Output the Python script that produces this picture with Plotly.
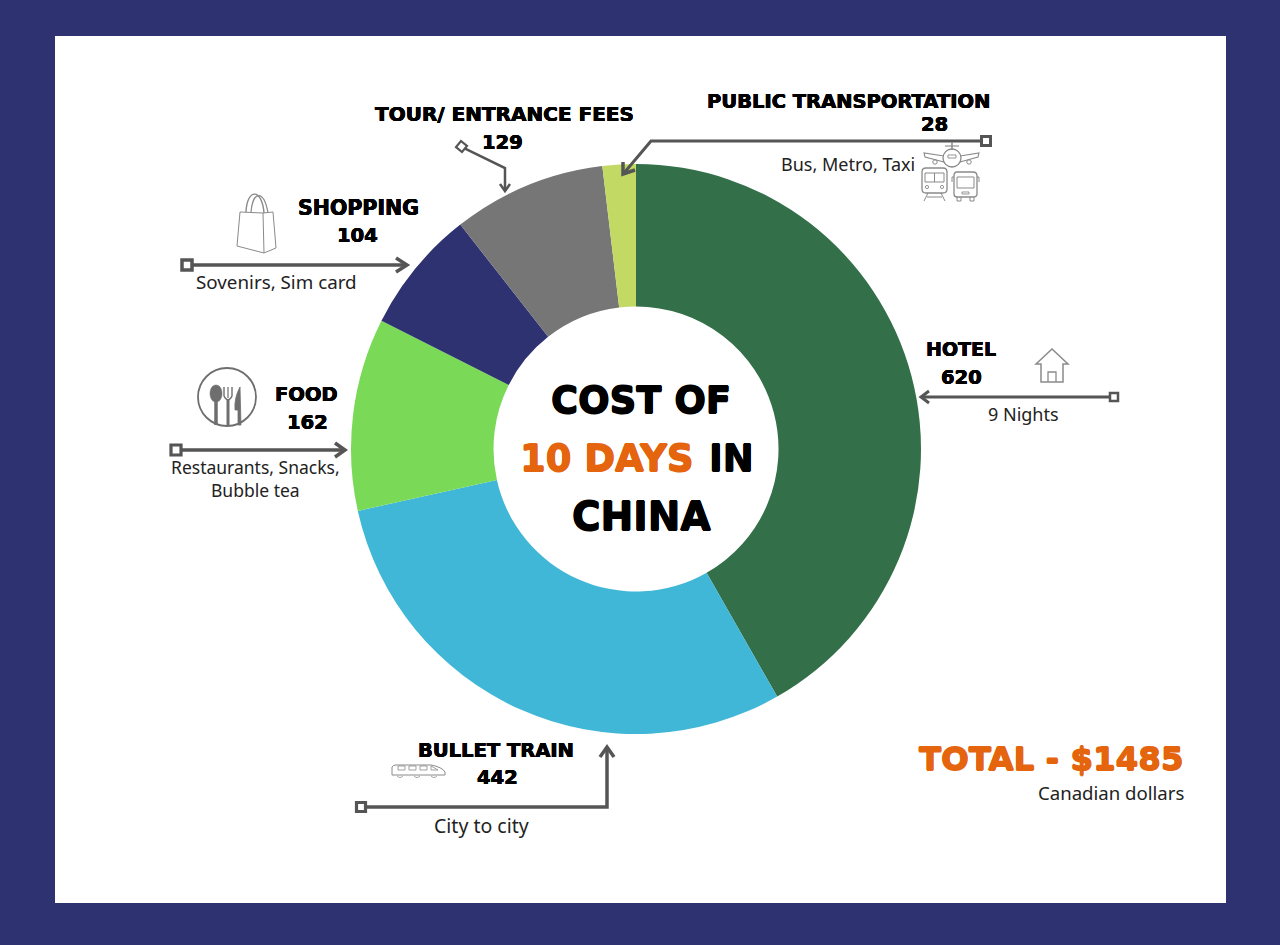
import re
import plotly.graph_objects as go

W, H = 1280, 945

categories = ["HOTEL", "BULLET TRAIN", "FOOD", "SHOPPING", "TOUR/ ENTRANCE FEES", "PUBLIC TRANSPORTATION"]
values = [620, 442, 162, 104, 129, 28]
colors = ["#33704A", "#40B7D6", "#7BD958", "#2F3270", "#767676", "#C2D964"]
details = ["9 Nights", "City to city", "Restaurants, Snacks,", "Sovenirs, Sim card", "Bubble tea", "Bus, Metro, Taxi"]

NAVY = "#2F3270"
ORANGE = "#E5650F"
GREY = "#555555"
ICON = "#8A8A8A"
HEAD = "DejaVu Sans"
BODY = "Noto Sans"
HEAD_SIZE = 19.5
BODY_SIZE = 18


def fx(x):
    return x / W


def fy(y):
    return 1 - y / H


def tr(path):
    out, i = [], 0
    for tok in re.findall(r"[A-Za-z]|-?\d+\.?\d*", path):
        if tok.isalpha():
            out.append(tok)
        else:
            v = float(tok)
            out.append(f"{fx(v) if i % 2 == 0 else fy(v):.5f}")
            i += 1
    return " ".join(out)


shapes = []


def P(path, color=GREY, width=3.5, fill=None):
    shapes.append(dict(type="path", xref="paper", yref="paper", path=tr(path),
                       line=dict(color=color, width=width),
                       fillcolor=fill or "rgba(0,0,0,0)", layer="above"))


def circle(cx, cy, r, color=ICON, width=1.5, fill=None):
    shapes.append(dict(type="circle", xref="paper", yref="paper",
                       x0=fx(cx - r), x1=fx(cx + r), y0=fy(cy + r), y1=fy(cy - r),
                       line=dict(color=color, width=width),
                       fillcolor=fill or "rgba(0,0,0,0)", layer="above"))


def box(cx, cy, s=9, width=3):
    P(f"M{cx-s/2} {cy-s/2} L{cx+s/2} {cy-s/2} L{cx+s/2} {cy+s/2} L{cx-s/2} {cy+s/2} Z",
      width=width, fill="#FFFFFF")


# card
shapes.append(dict(type="rect", xref="paper", yref="paper", x0=fx(55), x1=fx(1226), y0=fy(903), y1=fy(36),
                   fillcolor="#FFFFFF", line=dict(width=0), layer="below"))

# leader lines
P("M1114 397 L921 397", width=3)
P("M929 391 L921 397 L929 403", width=3)
box(1114, 397, 8, 2.5)

P("M986 141 L651 141 L624 173", width=3)
P("M623 162 L623 174 L635 170", width=3.5)
box(986, 141, 9, 3)

P("M462 147 L505 168 L505 190", width=2.5)
P("M500 184 L505 191 L510 184", width=2.5)
P("M461 141 L467 146 L462 152 L456 147 Z", width=2.2, fill="#FFFFFF")

P("M187 265 L406 265", width=3.5)
P("M396 258 L407 265 L396 272", width=3.5)
box(187, 265, 10, 3.5)

P("M176 450 L344 450", width=3.5)
P("M335 443 L345 450 L335 457", width=3.5)
box(176, 450, 10, 3.2)

P("M361 807 L607 807 L607 748", width=3.5)
P("M600 757 L607 747 L614 757", width=3.5)
box(361, 807, 9, 3.2)

# bag icon
P("M240 212 L263 213 L264 253 L237 246 Z", color=ICON, width=1)
P("M263 213 L273 212 L276 248 L264 253", color=ICON, width=1)
P("M246 212 C247 188 262 188 264 213", color=ICON, width=1.4)
P("M251 212 C253 190 264 190 268 213", color=ICON, width=1.2)

# cutlery icon
circle(227, 397, 29, color="#6E6E6E", width=1.8)
P("M216 385 C224 385 224 402 216 402 C208 402 208 385 216 385 Z", color="#6E6E6E", width=0.5, fill="#6E6E6E")
P("M216 400 L216 425", color="#6E6E6E", width=3.5)
P("M228 400 L228 425", color="#6E6E6E", width=3)
P("M224 387 L224 396 Q228 404 232 396 L232 387", color="#6E6E6E", width=1.4)
P("M228 387 L228 398", color="#6E6E6E", width=1.2)
P("M240 387 Q234 398 235 410 L238 410 L238 425 L241 425 Z", color="#6E6E6E", width=0.8, fill="#6E6E6E")

# house icon
P("M1036 364 L1052 349 L1068 364 L1063 364 L1063 382 L1041 382 L1041 364 Z", color=ICON, width=1.5)
P("M1048 382 L1048 372 L1056 372 L1056 382", color=ICON, width=1.3)

# train icon
P("M392 775 L392 767 Q393 765 396 765 L431 765 Q442 767 445 772 L445 775 Z", color=ICON, width=1)
for x0 in (398, 409, 420):
    P(f"M{x0} 766 L{x0+7} 766 L{x0+7} 770 L{x0} 770 Z", color=ICON, width=0.8)
P("M431 766 L438 770 L431 770 Z", color=ICON, width=0.8)
for x0 in (397, 414, 431):
    P(f"M{x0} 776 Q{x0+3} 779 {x0+6} 776", color=ICON, width=0.8)

# plane, train and bus icon
P("M952 142 L952 150", color=ICON, width=1.5)
P("M945 146 L959 146", color=ICON, width=1.1)
circle(952, 158, 9, width=1.3)
P("M944 156 L924 153 L925 157 L944 162", color=ICON, width=1.1)
P("M960 156 L979 153 L978 157 L960 162", color=ICON, width=1.1)
circle(935, 162, 2.2, width=1)
circle(969, 162, 2.2, width=1)
P("M948 155 L956 155 L956 158 L948 158 Z", color=ICON, width=0.9)

P("M926 168 L943 168 Q947 168 947 172 L947 189 Q947 193 943 193 L926 193 Q922 193 922 189 L922 172 Q922 168 926 168 Z", color=ICON, width=1.3)
P("M925 173 L944 173 L944 182 L925 182 Z M934.5 173 L934.5 182", color=ICON, width=1)
circle(927, 187, 1.6, width=0.9)
circle(942, 187, 1.6, width=0.9)
P("M928 193 L924 201 M941 193 L945 201 M927 197 L942 197", color=ICON, width=1)

P("M957 172 L973 172 Q977 172 977 176 L977 194 Q977 197 973 197 L957 197 Q954 197 954 194 L954 176 Q954 172 957 172 Z", color=ICON, width=1.3)
P("M957 177 L974 177 L974 188 L957 188 Z", color=ICON, width=1)
P("M962 192 L969 192 L969 194 L962 194 Z", color=ICON, width=0.9)
P("M957 197 L957 201 L961 201 L961 197 M970 197 L970 201 L974 201 L974 197", color=ICON, width=1)
P("M954 177 L952 177 L952 182 M977 177 L979 177 L979 182", color=ICON, width=1)

annotations = []


def T(x, y, text, size=HEAD_SIZE, color="#000000", anchor="center", heavy=0.35):
    sh = f"{heavy}px 0 0 {color}, -{heavy}px 0 0 {color}, 0 {heavy}px 0 {color}, 0 -{heavy}px 0 {color}"
    annotations.append(dict(xref="paper", yref="paper", x=fx(x), y=fy(y), text=f"<b>{text}</b>",
                            showarrow=False, xanchor=anchor, yanchor="middle",
                            font=dict(family=HEAD, size=size, color=color, shadow=sh)))


def B(x, y, text, anchor="center", size=BODY_SIZE):
    annotations.append(dict(xref="paper", yref="paper", x=fx(x), y=fy(y), text=text,
                            showarrow=False, xanchor=anchor, yanchor="middle",
                            font=dict(family=BODY, size=size, color="#222222")))


T(961, 349, categories[0], size=19); T(961, 377, str(values[0]))
B(1023, 414, details[0])
T(496, 750, categories[1]); T(497, 777, str(values[1]))
B(481, 825, details[1], size=19.5)
T(306, 394, categories[2]); T(307, 422, str(values[2]))
B(255, 467, details[2], size=17.5); B(255, 490, details[4], size=17.5)
T(358, 208, categories[3], size=20.5); T(357, 236, str(values[3]))
B(276, 282, details[3], size=18.8)
T(504, 114, categories[4], size=20); T(502, 142, str(values[4]))
T(848, 101, categories[5]); T(934, 124, str(values[5]))
B(848, 164, details[5])

T(641, 400, "COST OF", size=37, heavy=0.6)
T(696, 458, "10 DAYS", size=37, color=ORANGE, anchor="right", heavy=0.6)
T(707, 458, "IN", size=37, anchor="left", heavy=0.6)
T(641, 516, "CHINA", size=39, heavy=0.6)

T(1186, 759, "TOTAL - $1485", size=32.5, color=ORANGE, anchor="right", heavy=0.6)
B(1186, 792, "Canadian dollars", anchor="right", size=18.6)

cx, cy, r = 636, 449, 285
fig = go.Figure(go.Pie(
    labels=categories, values=values, sort=False, direction="clockwise", rotation=0,
    hole=0.5, marker=dict(colors=colors, line=dict(width=0)), textinfo="none",
    showlegend=False, automargin=False,
    domain=dict(x=[fx(cx - r), fx(cx + r)], y=[fy(cy + r), fy(cy - r)]),
))
fig.update_layout(width=W, height=H, margin=dict(l=0, r=0, t=0, b=0), autosize=False,
                  paper_bgcolor=NAVY, plot_bgcolor="rgba(0,0,0,0)",
                  shapes=shapes, annotations=annotations)
fig.write_html("out.html", config=dict(displayModeBar=False),
               post_script="document.body.style.margin='0';document.body.style.overflow='hidden';document.body.style.background='#2F3270';")
